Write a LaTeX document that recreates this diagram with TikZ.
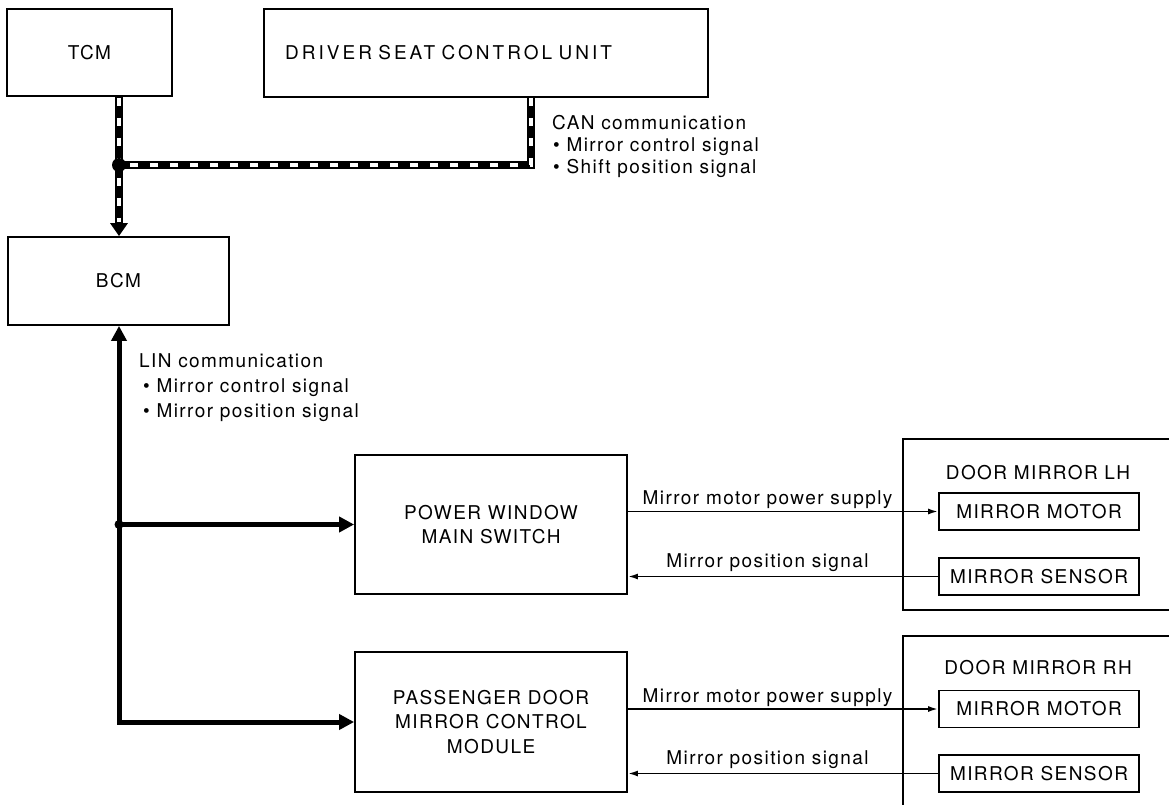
\documentclass[tikz,border=0pt]{standalone}
\usepackage{fontspec}
\newfontfamily\diafont[LetterSpace=7.5]{TeX Gyre Heros}
\usepackage{tikz}
\usetikzlibrary{arrows.meta,calc}
\newcommand\dfont{\diafont\fontsize{19}{24.5}\selectfont}
\tikzset{unit/.style={draw, line width=1.8pt, inner sep=0pt, align=center, font=\dfont}}
\tikzset{part/.style={unit, minimum width=200, minimum height=37}}
\tikzset{lbl/.style={inner sep=0pt, font=\dfont}}
\tikzset{frame/.style={line width=2.2pt}}
\tikzset{
  canbus/.style={black, line width=7.5pt},
  canbusw/.style={white, line width=3.5pt, dash pattern=on 8pt off 12pt},
  linbus/.style={black, line width=5pt},
  sig/.style={black, line width=1.8pt, -{Latex[length=10pt,width=6pt]}}
}

\begin{document}
\begin{tikzpicture}[x=1pt,y=-1pt]
\useasboundingbox (0,0) rectangle (1169,805);

% control units
\node[unit, minimum width=165, minimum height=87](tcm) at (89.5,52.5) {TCM};
\node[unit, text width=402pt, inner xsep=21pt, minimum height=88, align=left](dscu) at (486,53)
{\addfontfeature{LetterSpace=16}DRIVER SEAT CONTROL UNIT};
\node[unit, minimum width=221, minimum height=88](bcm) at (118.5,281) {BCM};
\node[unit, minimum width=272, minimum height=139](pwms) at (491,524.5)
{POWER WINDOW\\MAIN SWITCH};
\node[unit, minimum width=272, minimum height=140](pdm) at (491,722)
{PASSENGER DOOR\\MIRROR CONTROL\\MODULE};

% door mirrors
\draw[frame] (1172,439) -- (903,439) -- (903,610) -- (1172,610);
\draw[frame] (1172,636) -- (903,636) -- (903,808);
\node[lbl](lh) at (1038,473) {DOOR MIRROR LH};
\node[lbl](rh) at (1038,668) {DOOR MIRROR RH};
\node[part](lhmot) at (1039,511.5) {MIRROR MOTOR};
\node[part](lhsen) at (1039,576.5) {MIRROR SENSOR};
\node[part](rhmot) at (1039,709) {MIRROR MOTOR};
\node[part](rhsen) at (1039,773.5) {MIRROR SENSOR};

% CAN
\coordinate (jn) at (119,165);
\coordinate (cn) at (531,165);
\draw[canbus] (cn |- dscu.south) -- (cn) -- (jn);
\draw[canbusw] (cn |- dscu.south) -- (cn) -- (jn);
\draw[canbus, -{Triangle[length=13pt,width=17pt]}] (jn |- tcm.south) -- (jn |- bcm.north);
\draw[canbusw, shorten <=1pt, shorten >=14pt] (jn |- tcm.south) -- (jn |- bcm.north);
\fill (jn) circle (7pt);

\node[lbl, anchor=base west](can1) at (552,130) {CAN communication};
\node[lbl, anchor=base west](can2) at (553,152) {• Mirror control signal};
\node[lbl, anchor=base west](can3) at (553,174) {• Shift position signal};

% LIN
\coordinate (ln) at (jn |- pwms.west);
\draw[linbus, {Triangle[length=15pt,width=15pt]}-{Triangle[length=15pt,width=15pt]}]
  (jn |- bcm.south) -- (jn |- pdm.west) -- (pdm.west);
\draw[linbus, -{Triangle[length=15pt,width=15pt]}] (ln) -- (pwms.west);
\fill (ln) circle (4.5pt);

\node[lbl, anchor=base west](lin1) at (139,367) {LIN communication};
\node[lbl, anchor=base west](lin2) at (143,392) {• Mirror control signal};
\node[lbl, anchor=base west](lin3) at (143,417) {• Mirror position signal};

% signals
\draw[sig] (lhmot.west -| pwms.east) -- node[lbl, pos=0.45, anchor=base, yshift=7pt]
{Mirror motor power supply} (lhmot.west);
\draw[sig] (lhsen.west) -- node[lbl, pos=0.55, anchor=base, yshift=9pt]
{Mirror position signal} (lhsen.west -| pwms.east);
\draw[sig] (rhmot.west -| pdm.east) -- node[lbl, pos=0.45, anchor=base, yshift=7pt]
{Mirror motor power supply} (rhmot.west);
\draw[sig] (rhsen.west) -- node[lbl, pos=0.55, anchor=base, yshift=9pt]
{Mirror position signal} (rhsen.west -| pdm.east);
\end{tikzpicture}
\end{document}
